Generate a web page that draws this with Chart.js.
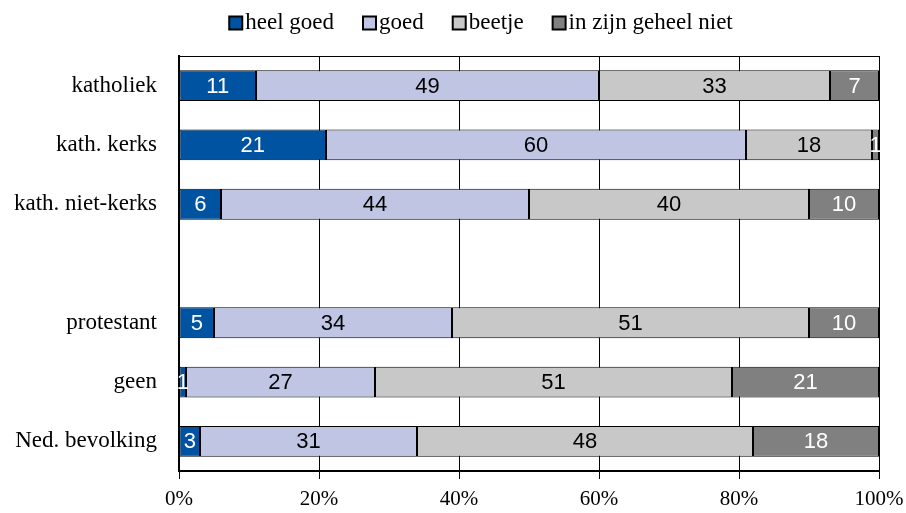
<!DOCTYPE html>
<html>
<head>
<meta charset="utf-8">
<script src="https://cdn.jsdelivr.net/npm/chart.js@4/dist/chart.umd.min.js"></script>
<style>
  html, body { margin: 0; padding: 0; background: #fff; }
  #wrap { width: 906px; height: 513px; }
</style>
</head>
<body>
<div id="wrap"><canvas id="myChart" width="906" height="513"></canvas></div>
<script>
// categories (empty slot between the catholic groups and the rest)
const groups = ['katholiek', 'kath. kerks', 'kath. niet-kerks', '', 'protestant', 'geen', 'Ned. bevolking']

// percentages per answer
const heelGoed = [11, 21, 6, null, 5, 1, 3]
const goed = [49, 60, 44, null, 34, 27, 31]
const beetje = [33, 18, 40, null, 51, 51, 48]
const helemaalNiet = [7, 1, 10, null, 10, 21, 18]

const xTicks = [0, 20, 40, 60, 80, 100]

const serif = '"Liberation Serif", "Times New Roman", serif'

// draws the numbers inside each bar segment
const segmentLabels = {
    id: 'segmentLabels',
    afterDatasetsDraw(chart) {
        const ctx = chart.ctx
        ctx.save()
        ctx.font = '22px "Liberation Sans", Arial, sans-serif'
        ctx.textAlign = 'center'
        ctx.textBaseline = 'middle'
        chart.data.datasets.forEach((ds, i) => {
            const meta = chart.getDatasetMeta(i)
            meta.data.forEach((bar, j) => {
                const v = ds.data[j]
                if (v == null) return
                const p = bar.getProps(['x', 'base', 'y'], true)
                ctx.fillStyle = ds.labelColor
                ctx.fillText(String(v), (p.x + p.base) / 2, p.y + 1)
            })
        })
        ctx.restore()
    }
}

// thin line along the top of the plot area
const topBorder = {
    id: 'topBorder',
    beforeDatasetsDraw(chart) {
        const a = chart.chartArea
        const ctx = chart.ctx
        ctx.save()
        ctx.strokeStyle = '#000'
        ctx.lineWidth = 1
        ctx.beginPath()
        ctx.moveTo(a.left, a.top + 0.5)
        ctx.lineTo(a.right, a.top + 0.5)
        ctx.stroke()
        ctx.restore()
    }
}

// compact legend: small box right against the text, like the original
const tightLegend = {
    id: 'tightLegend',
    afterDraw(chart) {
        const ctx = chart.ctx
        const box = 13, gap = 3, between = 29, centerX = 481, centerY = 23
        ctx.save()
        ctx.font = '23px ' + serif
        ctx.textBaseline = 'middle'
        const items = chart.data.datasets.map(ds => ({
            text: ds.label,
            color: ds.backgroundColor,
            w: ctx.measureText(ds.label).width
        }))
        const total = items.reduce((s, it) => s + box + gap + it.w, 0) + between * (items.length - 1)
        let x = centerX - total / 2
        items.forEach(it => {
            ctx.fillStyle = it.color
            ctx.fillRect(x, centerY - box / 2, box, box)
            ctx.strokeStyle = '#000'
            ctx.lineWidth = 2
            ctx.strokeRect(x, centerY - box / 2, box, box)
            ctx.fillStyle = '#000'
            ctx.fillText(it.text, x + box + gap, centerY)
            x += box + gap + it.w + between
        })
        ctx.restore()
    }
}

const ctx = document.getElementById('myChart')
const myChart = new Chart(ctx, {
    type: 'bar',
    data: {
        labels: groups,
        datasets: [{
            label: 'heel goed',
            data: heelGoed,
            backgroundColor: '#0053A0',
            labelColor: '#fff'
        },
        {
            label: 'goed',
            data: goed,
            backgroundColor: '#BFC5E2',
            labelColor: '#000'
        },
        {
            label: 'beetje',
            data: beetje,
            backgroundColor: '#C8C8C8',
            labelColor: '#000'
        },
        {
            label: 'in zijn geheel niet',
            data: helemaalNiet,
            backgroundColor: '#808080',
            labelColor: '#fff'
        }]
    },
    options: {
        indexAxis: 'y',
        responsive: false,
        animation: false,
        layout: { padding: { left: 9, right: 0, top: 56, bottom: 0 } },
        datasets: {
            bar: {
                borderColor: '#000',
                borderWidth: 1,
                borderSkipped: false,
                categoryPercentage: 1,
                barPercentage: 0.52
            }
        },
        scales: {
            x: {
                stacked: true,
                min: 0,
                max: 100,
                afterBuildTicks: axis => { axis.ticks = xTicks.map(v => ({ value: v })) },
                afterFit: axis => {
                    axis.height = 42
                    axis.paddingRight = 27
                },
                ticks: {
                    callback: v => v + '%',
                    color: '#000',
                    font: { family: serif, size: 21 },
                    padding: 8,
                    maxRotation: 0
                },
                grid: { color: '#000', lineWidth: 1, tickLength: 8 },
                border: { color: '#000', width: 2 }
            },
            y: {
                stacked: true,
                afterFit: axis => { axis.width = 170 },
                ticks: {
                    color: '#000',
                    font: { family: serif, size: 23 },
                    padding: 14
                },
                grid: { display: false },
                border: { color: '#000', width: 2 }
            }
        },
        plugins: {
            legend: { display: false },
            tooltip: { enabled: false }
        }
    },
    plugins: [topBorder, segmentLabels, tightLegend]
})
</script>
</body>
</html>
